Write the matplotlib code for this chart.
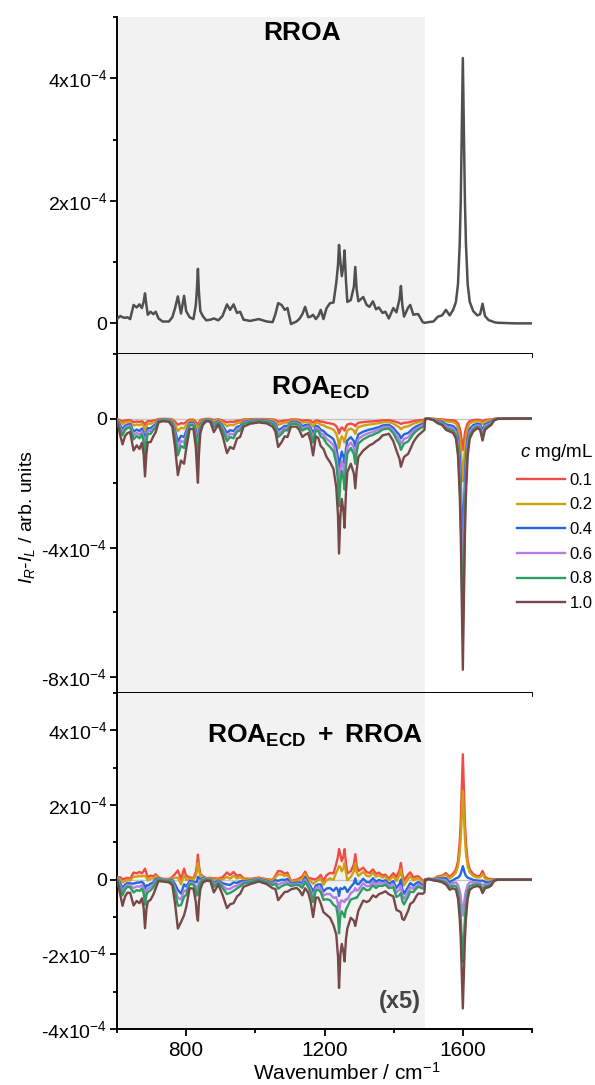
import matplotlib
matplotlib.use("Agg")
import matplotlib.pyplot as plt
import numpy as np
from matplotlib import ticker
from matplotlib.lines import Line2D

plt.rcParams["font.family"] = ["Liberation Sans", "DejaVu Sans"]
plt.rcParams["mathtext.fontset"] = "custom"
plt.rcParams["mathtext.rm"] = "Liberation Sans"
plt.rcParams["mathtext.it"] = "Liberation Sans:italic"
plt.rcParams["mathtext.bf"] = "Liberation Sans:bold"

# wavenumber grid (cm-1) and values, in units of 1e-4
# (region below 1490 cm-1 is shown x5 in the original figure)
wavenumber = [600, 605, 610, 616, 623, 630, 638, 648, 657, 665, 672, 677, 681, 685, 689, 697, 705, 712,
              720, 732, 750, 760, 768, 776, 785, 794, 800, 810, 821, 828, 831, 834, 837, 841, 848, 858,
              870, 880, 893, 905, 918, 927, 937, 947, 956, 966, 985, 1010, 1033, 1050, 1058,
              1066, 1076, 1085, 1093, 1103, 1119, 1127, 1136, 1144, 1153, 1160, 1167, 1175,
              1182, 1189, 1197, 1206, 1216, 1226, 1234, 1239, 1242, 1246, 1250, 1255, 1258, 1262, 1266,
              1276, 1285, 1289, 1293, 1298, 1312, 1322, 1330, 1340, 1349, 1357, 1368, 1376, 1386, 1399,
              1408, 1417, 1421, 1425, 1430, 1442, 1448, 1457, 1465, 1471, 1484, 1489, 1491, 1500, 1515,
              1528, 1540, 1551, 1562, 1572, 1580, 1586, 1591, 1594, 1597, 1600, 1603, 1606, 1609, 1614,
              1620, 1630, 1642, 1650, 1657, 1664, 1675, 1682, 1690, 1700, 1750, 1800]

rroa = [0.07, 0.10, 0.12, 0.10, 0.09, 0.10, 0.07, 0.30, 0.26, 0.31, 0.25, 0.35, 0.49, 0.30, 0.14, 0.19, 0.15, 0.19,
        0.08, 0.03, 0.03, 0.10, 0.25, 0.44, 0.16, 0.45, 0.20, 0.10, 0.07, 0.30, 0.55, 0.89, 0.50, 0.20, 0.12, 0.05,
        0.06, 0.08, 0.05, 0.12, 0.31, 0.22, 0.31, 0.17, 0.19, 0.06, 0.04, 0.07, 0.03, 0.02, 0.15,
        0.33, 0.30, 0.22, 0.25, -0.01, 0.03, 0.07, 0.15, 0.27, 0.10, 0.11, 0.14, 0.07,
        0.12, 0.22, 0.07, 0.25, 0.33, 0.34, 0.66, 0.95, 1.28, 1.00, 0.77, 0.95, 1.19, 0.70, 0.35,
        0.38, 0.60, 0.92, 0.55, 0.36, 0.43, 0.30, 0.27, 0.36, 0.23, 0.26, 0.17, 0.19, 0.08, 0.25,
        0.18, 0.40, 0.61, 0.30, 0.11, 0.26, 0.30, 0.14, 0.15, 0.15, 0.02, 0.01, 0.01, 0.02, 0.03,
        0.11, 0.13, 0.22, 0.13, 0.22, 0.35, 0.64, 1.30, 2.00, 3.20, 4.33, 3.20, 2.00, 1.30, 0.64,
        0.35, 0.20, 0.13, 0.15, 0.32, 0.12, 0.05, 0.04, 0.02, 0.01, 0.00, 0.00]

# ROA_ECD for c = 1.0 mg/mL
roa_ecd_top = [-0.10, -0.30, -0.55, -0.80, -0.55, -0.45, -0.42, -0.99, -0.83, -0.94, -0.75, -1.10, -1.79, -1.10, -0.73, -0.73, -0.55, -0.42,
               -0.12, -0.08, -0.10, -0.25, -0.90, -1.75, -1.30, -1.40, -0.94, -0.33, -0.31, -0.90, -1.50, -1.99, -1.10, -0.45, -0.20, -0.08,
               -0.10, -0.42, -0.18, -0.52, -1.07, -0.88, -0.94, -0.62, -0.57, -0.25, -0.16, -0.12, -0.15, -0.25, -0.40,
               -0.88, -0.73, -0.55, -0.57, -0.25, -0.25, -0.35, -0.57, -0.50, -0.45, -0.70, -1.14, -0.55,
               -0.60, -0.85, -0.94, -1.19, -1.35, -1.56, -2.13, -3.00, -4.18, -3.00, -2.49, -2.90, -3.38, -2.30, -1.66,
               -1.40, -1.70, -2.16, -1.60, -1.19, -0.99, -0.90, -0.83, -0.78, -0.70, -0.65, -0.52, -0.50, -0.47, -0.70,
               -0.99, -1.25, -1.49, -1.35, -1.19, -1.09, -0.95, -0.73, -0.60, -0.52, -0.40, -0.35, -0.02, 0.00, -0.05,
               -0.15, -0.20, -0.35, -0.40, -0.45, -0.62, -1.15, -2.35, -3.60, -5.75, -7.78, -5.75, -3.60, -2.35, -1.15,
               -0.62, -0.40, -0.30, -0.35, -0.68, -0.35, -0.25, -0.20, -0.06, -0.01, 0.00, 0.00]

conc_labels = ["0.1", "0.2", "0.4", "0.6", "0.8", "1.0"]
# ROA_ECD relative to the 1.0 mg/mL curve (x5 region / 1600 cm-1 band)
ratio_x5 = [0.11, 0.22, 0.41, 0.53, 0.65, 1.0]
ratio_band = [0.125, 0.25, 0.51, 0.68, 0.84, 1.0]
colors = ["#F24A45", "#D1A012", "#2468DC", "#B47EE6", "#2E9D63", "#774848"]

x5_limit = 1490

wn = np.array(wavenumber)
rroa_arr = np.array(rroa)
ecd_ref = np.array(roa_ecd_top)

fig = plt.figure(figsize=(5.95, 10.85), dpi=100)
left, width = 117 / 595, 415 / 595
ax1 = fig.add_axes([left, 1 - 354 / 1085, width, 337 / 1085])
ax2 = fig.add_axes([left, 1 - 693 / 1085, width, 339 / 1085])
ax3 = fig.add_axes([left, 1 - 1029 / 1085, width, 336 / 1085])


def sci_label(v, pos):
    if abs(v) < 1e-9:
        return "0"
    return f"{v:g}x10$^{{-4}}$"


for ax in (ax1, ax2, ax3):
    ax.set_xlim(600, 1800)
    ax.axvspan(600, x5_limit, color="#F2F2F2", zorder=0, lw=0)
    ax.spines["top"].set_visible(False)
    ax.spines["right"].set_visible(False)
    ax.spines["left"].set_linewidth(1.4)
    ax.spines["bottom"].set_linewidth(1.4)
    ax.xaxis.set_major_locator(ticker.MultipleLocator(400))
    ax.xaxis.set_minor_locator(ticker.MultipleLocator(200))
    ax.yaxis.set_major_formatter(ticker.FuncFormatter(sci_label))
    ax.tick_params(which="major", direction="out", length=5, width=1.3, labelsize=14, pad=2)
    ax.tick_params(which="minor", direction="out", length=3, width=1.3)
    ax.tick_params(axis="x", pad=4, labelsize=15)

ax1.tick_params(axis="x", labelbottom=False)
ax2.tick_params(axis="x", labelbottom=False)

# top: RROA
ax1.set_ylim(-0.5, 5.0)
ax1.yaxis.set_major_locator(ticker.MultipleLocator(2))
ax1.yaxis.set_minor_locator(ticker.MultipleLocator(1))
ax1.plot(wn, rroa_arr, color="#505050", lw=1.8, zorder=3)
ax1.text(0.446, 0.932, "RROA", transform=ax1.transAxes, ha="center", va="baseline",
         fontsize=19, fontweight="bold")

# middle: ROA_ECD, bottom: ROA_ECD + RROA
ax2.set_ylim(-8.5, 2.0)
ax2.yaxis.set_major_locator(ticker.MultipleLocator(4))
ax2.yaxis.set_minor_locator(ticker.MultipleLocator(2))
ax2.axhline(0, color="#C4C4C4", lw=1.0, zorder=1)
ax3.set_ylim(-4.0, 5.0)
ax3.yaxis.set_major_locator(ticker.MultipleLocator(2))
ax3.yaxis.set_minor_locator(ticker.MultipleLocator(1))
ax3.axhline(0, color="#C4C4C4", lw=1.0, zorder=1)

handles = []
for lab, r5, rb, col in zip(conc_labels, ratio_x5, ratio_band, colors):
    ecd_c = ecd_ref * np.where(wn <= x5_limit, r5, rb)
    ax2.plot(wn, ecd_c, color=col, lw=1.7, zorder=3)
    ax3.plot(wn, rroa_arr + ecd_c, color=col, lw=1.7, zorder=3)
    handles.append(Line2D([], [], color=col, lw=1.7))

ax2.text(0.49, 0.879, r"$\mathbf{ROA}_{\mathbf{ECD}}$", transform=ax2.transAxes,
         ha="center", va="baseline", fontsize=19)
ax3.text(0.478, 0.851, r"$\mathbf{ROA}_{\mathbf{ECD}}$" + r"$\mathbf{\ +\ RROA}$", transform=ax3.transAxes,
         ha="center", va="baseline", fontsize=19)
ax3.text(0.733, 0.0625, "(x5)", transform=ax3.transAxes, ha="right", va="baseline",
         fontsize=17, fontweight="bold", color="#454545")

leg = fig.legend(handles, conc_labels, loc="upper right", bbox_to_anchor=(593 / 595, 1 - 442 / 1085),
                 frameon=False, fontsize=12, title="$c$ mg/mL", title_fontsize=13.5,
                 handlelength=2.9, handletextpad=0.3, labelspacing=0.58,
                 borderpad=0, borderaxespad=0)
leg._legend_box.align = "right"

fig.text(27 / 595, 1 - 517 / 1085, "$I_R$-$I_L$ / arb. units", rotation=90,
         ha="center", va="center", fontsize=14)
fig.text(347 / 595, 0.011, "Wavenumber / cm$^{-1}$", ha="center", va="center", fontsize=15)

fig.savefig("out.png", dpi=100)
